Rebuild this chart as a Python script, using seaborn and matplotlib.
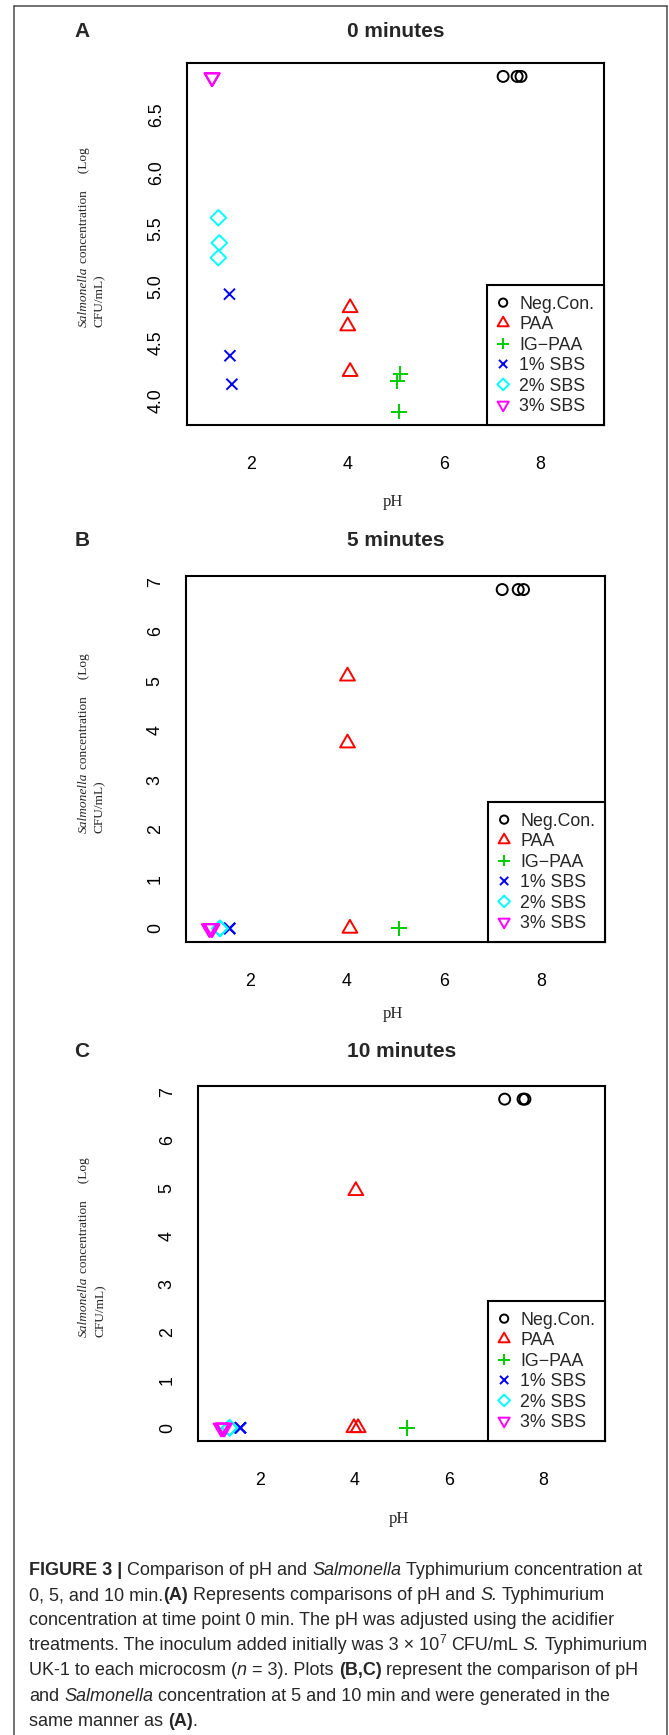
import matplotlib
matplotlib.use("Agg")
import matplotlib.pyplot as plt
from matplotlib import font_manager
from matplotlib.lines import Line2D
from matplotlib.path import Path
import numpy as np
import pandas as pd
import seaborn as sns


FIG_W, FIG_H, DPI = 669, 1735, 100

GROUPS = ["Neg.Con.", "PAA", "IG-PAA", "1% SBS", "2% SBS", "3% SBS"]
PANEL_LETTERS = ["A", "B", "C"]
PANEL_TITLES = ["0 minutes", "5 minutes", "10 minutes"]

# pH and log CFU/mL for the three replicates of each treatment
PH_0MIN = {
    "Neg.Con.": [7.23, 7.52, 7.60],
    "PAA": [4.06, 4.01, 4.06],
    "IG-PAA": [5.10, 5.04, 5.07],
    "1% SBS": [1.56, 1.57, 1.61],
    "2% SBS": [1.33, 1.35, 1.33],
    "3% SBS": [1.20, 1.20, 1.20],
}
LOG_0MIN = {
    "Neg.Con.": [6.84, 6.84, 6.84],
    "PAA": [4.81, 4.65, 4.25],
    "IG-PAA": [4.23, 4.17, 3.90],
    "1% SBS": [4.93, 4.39, 4.14],
    "2% SBS": [5.60, 5.38, 5.25],
    "3% SBS": [6.83, 6.83, 6.83],
}

PH_5MIN = {
    "Neg.Con.": [7.20, 7.53, 7.64],
    "PAA": [4.01, 4.01, 4.06],
    "IG-PAA": [5.07, 5.07, 5.07],
    "1% SBS": [1.58, 1.58, 1.58],
    "2% SBS": [1.38, 1.38, 1.38],
    "3% SBS": [1.16, 1.20, 1.22],
}
LOG_5MIN = {
    "Neg.Con.": [6.84, 6.84, 6.84],
    "PAA": [5.09, 3.74, 0.0],
    "IG-PAA": [0.0, 0.0, 0.0],
    "1% SBS": [0.0, 0.0, 0.0],
    "2% SBS": [0.0, 0.0, 0.0],
    "3% SBS": [0.0, 0.0, 0.0],
}

PH_10MIN = {
    "Neg.Con.": [7.19, 7.58, 7.62],
    "PAA": [4.03, 3.99, 4.08],
    "IG-PAA": [5.12, 5.12, 5.12],
    "1% SBS": [1.58, 1.58, 1.58],
    "2% SBS": [1.35, 1.35, 1.35],
    "3% SBS": [1.17, 1.21, 1.24],
}
LOG_10MIN = {
    "Neg.Con.": [6.85, 6.85, 6.85],
    "PAA": [4.94, 0.0, 0.0],
    "IG-PAA": [0.0, 0.0, 0.0],
    "1% SBS": [0.0, 0.0, 0.0],
    "2% SBS": [0.0, 0.0, 0.0],
    "3% SBS": [0.0, 0.0, 0.0],
}

X_SPAN = [1, 9]
X_TICKS = [2, 4, 6, 8]
Y_TICKS_0MIN = [4.0, 4.5, 5.0, 5.5, 6.0, 6.5]
Y_TICKS_LATER = [0, 1, 2, 3, 4, 5, 6, 7]

CAPTION = [
    [("FIGURE 3 |", "b"), (" Comparison of pH and ", ""), ("Salmonella", "i"),
     (" Typhimurium concentration at", "")],
    [("0, 5, and 10 min.", ""), ("(A)", "b"), (" Represents comparisons of pH and ", ""),
     ("S.", "i"), (" Typhimurium", "")],
    [("concentration at time point 0 min. The pH was adjusted using the acidifier", "")],
    [("treatments. The inoculum added initially was 3 \u00d7 10", ""), ("7", "sup"),
     (" CFU/mL ", ""), ("S.", "i"), (" Typhimurium", "")],
    [("UK-1 to each microcosm (", ""), ("n", "i"), (" = 3). Plots ", ""), ("(B,C)", "b"),
     (" represent the comparison of pH", "")],
    [("and ", ""), ("Salmonella", "i"),
     (" concentration at 5 and 10 min and were generated in the", "")],
    [("same manner as ", ""), ("(A)", "b"), (".", "")],
]

# R style point symbols
COLORS = {"Neg.Con.": "black", "PAA": "#FF0000", "IG-PAA": "#00CD00",
          "1% SBS": "#0000FF", "2% SBS": "#00FFFF", "3% SBS": "#FF00FF"}
S2 = np.sqrt(2)
MOVE, LINE, CLOSE = Path.MOVETO, Path.LINETO, Path.CLOSEPOLY
MARKERS = {
    "Neg.Con.": ("o", 1.0),
    "PAA": (Path([(0, 1.5551), (1.3468, -0.7776), (-1.3468, -0.7776), (0, 0)],
                 [MOVE, LINE, LINE, CLOSE]), 1.5551),
    "IG-PAA": (Path([(-S2, 0), (S2, 0), (0, -S2), (0, S2)], [MOVE, LINE, MOVE, LINE]), S2),
    "1% SBS": (Path([(-1, -1), (1, 1), (-1, 1), (1, -1)], [MOVE, LINE, MOVE, LINE]), 1.0),
    "2% SBS": (Path([(0, S2), (S2, 0), (0, -S2), (-S2, 0), (0, 0)],
                    [MOVE, LINE, LINE, LINE, CLOSE]), S2),
    "3% SBS": (Path([(0, -1.5551), (1.3468, 0.7776), (-1.3468, 0.7776), (0, 0)],
                    [MOVE, LINE, LINE, CLOSE]), 1.5551),
}
R_PT = 5.5 * 72 / DPI

# layout in output pixels (x0, y0, x1, y1), y measured from the top
AX_BOXES = [(187, 63, 604, 425), (186, 576, 605, 942), (198, 1086, 605, 1441)]
TITLE_BASE = [37, 546, 1057]
PH_BASE = [506, 1018, 1523]
YLAB_BOTTOM = [327, 833, 1337]
YLAB_X = [(87, 103), (87, 103), (87, 104)]
CAP_X, CAP_BASE0, CAP_STEP, CAP_WIDTH = 29, 1575, 25.1, 616


def fx(x):
    return x / FIG_W


def fy(y):
    return 1 - y / FIG_H


def has_font(name):
    try:
        font_manager.findfont(name, fallback_to_default=False)
        return True
    except ValueError:
        return False


def measure(fig, renderer, s, **kw):
    t = fig.text(0, 0, s, **kw)
    w = t.get_window_extent(renderer).width
    t.remove()
    return w


def draw_runs(fig, renderer, x, y, runs, size, family, rotation=0):
    """Draw styled runs one after the other; y is the baseline (pixels from top)."""
    artists = []
    for txt, style in runs:
        kw = dict(fontsize=size, family=family)
        if style == "b":
            kw["fontweight"] = "bold"
        if style == "i":
            kw["fontstyle"] = "italic"
        if style == "sup":
            kw["fontsize"] = size * 0.68
        core = txt.strip(" ")
        lead = len(txt) - len(txt.lstrip(" "))
        trail = len(txt) - len(txt.rstrip(" "))
        space = measure(fig, renderer, "x x", **kw) - measure(fig, renderer, "xx", **kw)
        x += lead * space if rotation == 0 else 0
        y -= lead * space if rotation != 0 else 0
        if core:
            w = measure(fig, renderer, core, **kw)
            if rotation == 0:
                yy = y - (size * DPI / 72 * 0.42 if style == "sup" else 0)
                t = fig.text(fx(x), fy(yy), core, ha="left", va="baseline", **kw)
                x += w
            else:
                t = fig.text(fx(x), fy(y), core, ha="left", va="baseline",
                             rotation=90, rotation_mode="anchor", **kw)
                y -= w
            artists.append(t)
        if rotation == 0:
            x += trail * space
        else:
            y -= trail * space
    return (x if rotation == 0 else y), artists


def build_frame(ph, logc, panel):
    rows = []
    for g in GROUPS:
        for p, v in zip(ph[g], logc[g]):
            rows.append({"panel": panel, "group": g, "pH": p, "log_cfu": v})
    return pd.DataFrame(rows)


sns.set_style("white")
plt.rcParams["font.family"] = ["Liberation Sans", "DejaVu Sans"]
plt.rcParams["axes.linewidth"] = 1.5
plt.rcParams["axes.edgecolor"] = "black"

df = pd.concat([
    build_frame(PH_0MIN, LOG_0MIN, "A"),
    build_frame(PH_5MIN, LOG_5MIN, "B"),
    build_frame(PH_10MIN, LOG_10MIN, "C"),
])

fig = plt.figure(figsize=(FIG_W / DPI, FIG_H / DPI), dpi=DPI)
renderer = fig.canvas.get_renderer()

SERIF = ["Liberation Serif", "DejaVu Serif"]

for i, panel in enumerate(PANEL_LETTERS):
    x0, y0, x1, y1 = AX_BOXES[i]
    ax = fig.add_axes([fx(x0), fy(y1), (x1 - x0) / FIG_W, (y1 - y0) / FIG_H])
    sub = df[df["panel"] == panel]
    for g in GROUPS:
        marker, extent = MARKERS[g]
        sns.scatterplot(
            data=sub[sub["group"] == g], x="pH", y="log_cfu", ax=ax,
            marker=marker, s=(2 * extent * R_PT) ** 2, color=COLORS[g],
            facecolor="none", edgecolor=COLORS[g], linewidth=1.4,
            label=g.replace("-", "\u2212"),
        )

    pad_x = 0.04 * (X_SPAN[1] - X_SPAN[0])
    ax.set_xlim(X_SPAN[0] - pad_x, X_SPAN[1] + pad_x)
    lo, hi = sub["log_cfu"].min(), sub["log_cfu"].max()
    pad_y = 0.04 * (hi - lo)
    ax.set_ylim(lo - pad_y, hi + pad_y)

    ax.set_xticks(X_TICKS)
    ax.set_xticklabels([str(t) for t in X_TICKS])
    yt = Y_TICKS_0MIN if panel == "A" else Y_TICKS_LATER
    ax.set_yticks(yt)
    ax.set_yticklabels([f"{t:.1f}" if panel == "A" else str(t) for t in yt])
    ax.set_xlabel("")
    ax.set_ylabel("")
    ax.tick_params(axis="both", direction="out", length=9, width=1.5,
                   labelsize=12.8, color="black", labelcolor="black")
    ax.tick_params(axis="x", pad=13)
    ax.tick_params(axis="y", pad=7, labelrotation=90)
    for lab in ax.get_yticklabels():
        lab.set_verticalalignment("center")
    for sp in ax.spines.values():
        sp.set_linewidth(1.5)

    leg = ax.legend(loc="lower right", bbox_to_anchor=(1, 0), borderaxespad=0,
                    frameon=True, fancybox=False, fontsize=12.8, scatterpoints=1,
                    markerscale=0.75, borderpad=0.56, labelspacing=0.12,
                    handlelength=0.67, handleheight=1.05, handletextpad=0.56)
    leg.get_frame().set_edgecolor("black")
    leg.get_frame().set_linewidth(1.5)
    leg.get_frame().set_alpha(1)

    # panel letter and title
    cx = (x0 + x1) / 2
    fig.text(fx(82), fy(TITLE_BASE[i]), panel, ha="center", va="baseline",
             fontsize=15, fontweight="bold")
    fig.text(fx(cx), fy(TITLE_BASE[i]), PANEL_TITLES[i], ha="center", va="baseline",
             fontsize=15, fontweight="bold")

    # axis titles
    fig.text(fx(cx - 3), fy(PH_BASE[i]), "pH", ha="center", va="baseline",
             fontsize=12, family=SERIF)
    lx1, lx2 = YLAB_X[i]
    draw_runs(fig, renderer, lx1, YLAB_BOTTOM[i],
              [("Salmonella", "i"), (" concentration     (Log", "")],
              9.65, SERIF, rotation=90)
    draw_runs(fig, renderer, lx2, YLAB_BOTTOM[i], [("CFU/mL)", "")],
              9.65, SERIF, rotation=90)

# caption, sized so the first line fills the text width
if has_font("Liberation Sans Narrow"):
    cap_family = ["Liberation Sans Narrow", "Liberation Sans"]
else:
    cap_family = ["Liberation Sans", "DejaVu Sans"]
end, arts = draw_runs(fig, renderer, CAP_X, CAP_BASE0, CAPTION[0], 10, cap_family)
for a in arts:
    a.remove()
cap_size = 10 * CAP_WIDTH / (end - CAP_X)
for k, line in enumerate(CAPTION):
    draw_runs(fig, renderer, CAP_X, CAP_BASE0 + k * CAP_STEP, line, cap_size, cap_family)

# outer frame
frame_kw = dict(transform=fig.transFigure, color="#4a4a4a", linewidth=1.1)
fig.add_artist(Line2D([fx(14), fx(14)], [0, fy(6)], **frame_kw))
fig.add_artist(Line2D([fx(14), fx(667)], [fy(6), fy(6)], **frame_kw))
fig.add_artist(Line2D([fx(667), fx(667)], [fy(6), 0], **frame_kw))

fig.savefig("out.png", dpi=DPI)
